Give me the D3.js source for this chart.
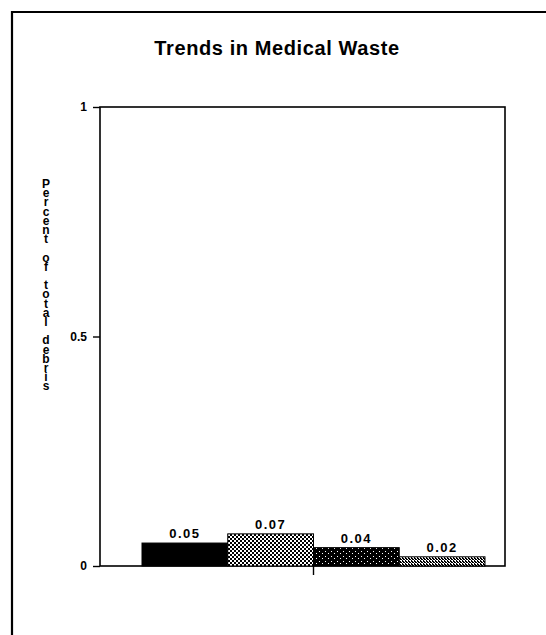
<!DOCTYPE html>
<html>
<head>
<meta charset="utf-8">
<script src="https://cdn.jsdelivr.net/npm/d3@7"></script>
<style>
  html, body { margin: 0; padding: 0; background: #fff; }
  svg { display: block; }
  text { font-family: "Liberation Sans", Arial, sans-serif; font-weight: bold; fill: #000; }
</style>
</head>
<body>
<svg id="chart" width="546" height="635"></svg>
<script>
const title = "Trends in Medical Waste";
const yLabel = "Percent of total debris";
const categories = ["Bar 1", "Bar 2", "Bar 3", "Bar 4"];
const values = [0.05, 0.07, 0.04, 0.02];
const valueLabels = ["0.05", "0.07", "0.04", "0.02"];
const yTicks = [0, 0.5, 1];
const yTickLabels = ["0", "0.5", "1"];
const fills = ["solid", "lightStipple", "darkStipple", "checker"];

const svg = d3.select("#chart");
const defs = svg.append("defs");

// patterns
const p1 = defs.append("pattern").attr("id", "lightStipple").attr("width", 4).attr("height", 4)
  .attr("patternUnits", "userSpaceOnUse");
p1.append("rect").attr("width", 4).attr("height", 4).attr("fill", "#fff");
p1.append("rect").attr("x", 0).attr("y", 0).attr("width", 2).attr("height", 2).attr("fill", "#000");
p1.append("rect").attr("x", 2).attr("y", 2).attr("width", 2).attr("height", 2).attr("fill", "#000");

const p2 = defs.append("pattern").attr("id", "darkStipple").attr("width", 6).attr("height", 5)
  .attr("patternUnits", "userSpaceOnUse");
p2.append("rect").attr("width", 6).attr("height", 5).attr("fill", "#000");
p2.append("rect").attr("x", 1).attr("y", 1).attr("width", 1).attr("height", 1).attr("fill", "#fff");
p2.append("rect").attr("x", 4).attr("y", 3).attr("width", 1).attr("height", 1).attr("fill", "#fff");

const p3 = defs.append("pattern").attr("id", "checker").attr("width", 3).attr("height", 3)
  .attr("patternUnits", "userSpaceOnUse");
p3.append("rect").attr("width", 3).attr("height", 3).attr("fill", "#fff");
p3.append("rect").attr("x", 0).attr("y", 0).attr("width", 2).attr("height", 1).attr("fill", "#000");
p3.append("rect").attr("x", 1).attr("y", 1).attr("width", 2).attr("height", 1).attr("fill", "#000");
p3.append("rect").attr("x", 0).attr("y", 2).attr("width", 1).attr("height", 1).attr("fill", "#000");

// outer frame (extends beyond right/bottom)
svg.append("path")
  .attr("d", "M12,640 L12,12 L550,12")
  .attr("fill", "none").attr("stroke", "#000").attr("stroke-width", 2.2);

// title
svg.append("text")
  .attr("x", 277).attr("y", 55)
  .attr("text-anchor", "middle")
  .attr("font-size", 20)
  .attr("letter-spacing", 0.6)
  .text(title);

const plot = { left: 100, right: 505, top: 107, bottom: 566 };

const y = d3.scaleLinear().domain([0, 1]).range([plot.bottom, plot.top]);
const x = d3.scaleBand().domain(categories).range([142, 485]).padding(0);

// plot box
svg.append("rect")
  .attr("x", plot.left).attr("y", plot.top)
  .attr("width", plot.right - plot.left).attr("height", plot.bottom - plot.top)
  .attr("fill", "none").attr("stroke", "#000").attr("stroke-width", 1.6);

// bars
svg.selectAll("rect.bar").data(values).join("rect")
  .attr("class", "bar")
  .attr("x", (d, i) => x(categories[i]))
  .attr("y", d => y(d))
  .attr("width", x.bandwidth())
  .attr("height", d => y(0) - y(d))
  .attr("fill", (d, i) => fills[i] === "solid" ? "#000" : `url(#${fills[i]})`)
  .attr("stroke", "#000").attr("stroke-width", 1);

// value labels
svg.selectAll("text.val").data(values).join("text")
  .attr("class", "val")
  .attr("x", (d, i) => x(categories[i]) + x.bandwidth() / 2)
  .attr("y", d => y(d) - 5)
  .attr("text-anchor", "middle")
  .attr("font-size", 13)
  .attr("letter-spacing", 1.5)
  .text((d, i) => valueLabels[i]);

// y axis
const yAxis = d3.axisLeft(y).tickValues(yTicks).tickFormat((d, i) => yTickLabels[i])
  .tickSize(7).tickPadding(6);
const gy = svg.append("g").attr("transform", `translate(${plot.left},0)`).call(yAxis);
gy.select(".domain").remove();
gy.selectAll("line").attr("stroke", "#000").attr("stroke-width", 1.4);
gy.selectAll("text").attr("font-size", 12).attr("font-family", "Liberation Sans, Arial, sans-serif")
  .attr("font-weight", "bold");

// x middle tick
svg.append("line")
  .attr("x1", x(categories[2])).attr("x2", x(categories[2]))
  .attr("y1", plot.bottom).attr("y2", plot.bottom + 9)
  .attr("stroke", "#000").attr("stroke-width", 1.4);

// vertical stacked y label (single text, upright vertical writing)
svg.append("text")
  .attr("x", 46)
  .attr("y", 177)
  .attr("font-size", 12)
  .attr("letter-spacing", -4.8)
  .style("writing-mode", "vertical-rl")
  .style("text-orientation", "upright")
  .text(yLabel);
</script>
</body>
</html>
